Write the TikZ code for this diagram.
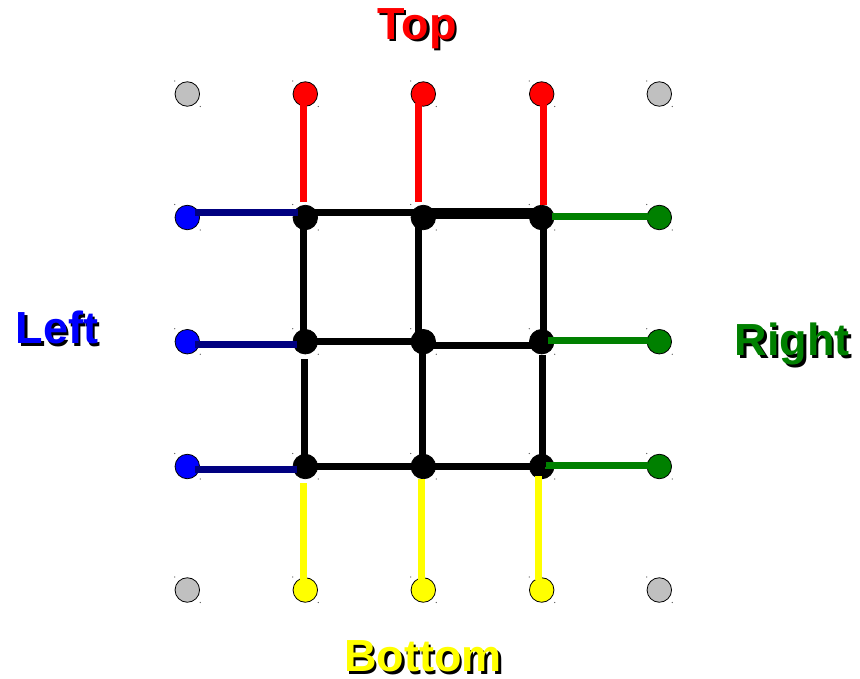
\documentclass[tikz,border=0pt]{standalone}
\usepackage{fontspec}
\setmainfont{Liberation Sans}
\usetikzlibrary{calc}

\definecolor{wireNavy}{HTML}{000080}
\definecolor{dotBlue}{HTML}{0000FF}
\definecolor{dotGreen}{HTML}{008000}
\definecolor{dotRed}{HTML}{FF0000}
\definecolor{dotYellow}{HTML}{FFFF00}
\definecolor{dotGray}{HTML}{C0C0C0}

% bold caption with a black drop shadow behind it
\newcommand{\shadowed}[1]{%
  \makebox[0pt][l]{\raisebox{-2.5pt}[0pt][0pt]{\hspace{2.5pt}\color{black}#1}}#1}

\begin{document}
\begin{tikzpicture}[x=1pt,y=-1pt,
  dot/.style={circle, draw=black, line width=0.8pt, minimum size=24.5pt, inner sep=0pt},
  wire/.style={line width=7pt, line cap=butt},
  title/.style={font=\fontsize{45}{45}\selectfont\bfseries, inner sep=0pt, anchor=base},
  speck/.style={fill=black!70}
]
\useasboundingbox (0,0) rectangle (860,678);

% corner terminals
\node[dot, fill=dotGray] (gTL) at (187.3,94) {};
\node[dot, fill=dotGray] (gTR) at (659.3,94) {};
\node[dot, fill=dotGray] (gBL) at (187.3,590) {};
\node[dot, fill=dotGray] (gBR) at (659.3,590) {};

% top terminals
\node[dot, fill=dotRed] (t1) at (305.3,94) {};
\node[dot, fill=dotRed] (t2) at (423.3,94) {};
\node[dot, fill=dotRed] (t3) at (541.7,94) {};

% left terminals
\node[dot, fill=dotBlue] (l1) at (187.3,217.5) {};
\node[dot, fill=dotBlue] (l2) at (187.3,341.7) {};
\node[dot, fill=dotBlue] (l3) at (187.3,466.5) {};

% right terminals
\node[dot, fill=dotGreen] (r1) at (659.3,217.5) {};
\node[dot, fill=dotGreen] (r2) at (659.3,341.7) {};
\node[dot, fill=dotGreen] (r3) at (659.3,466.5) {};

% bottom terminals
\node[dot, fill=dotYellow] (b1) at (305.3,590) {};
\node[dot, fill=dotYellow] (b2) at (423.3,590) {};
\node[dot, fill=dotYellow] (b3) at (541.7,590) {};

% inner mesh junctions
\foreach \r/\y in {1/217.5, 2/341.7, 3/466.5}
  \foreach \c/\x in {1/305.3, 2/423.3, 3/541.7}
    \node[dot, fill=black] (m\r\c) at (\x,\y) {};

% selection specks at two corners of every terminal
\foreach \n in {gTL,gTR,gBL,gBR,t1,t2,t3,l1,l2,l3,r1,r2,r3,b1,b2,b3,
                m11,m12,m13,m21,m22,m23,m31,m32,m33} {
  \fill[speck] ($(\n)+(-12.5,-13)$) circle (0.6);
  \fill[speck] ($(\n)+(13,12.5)$) circle (0.6);
}

% red feeders from the top
\draw[wire, dotRed] ($(t1)+(-2.3,9)$) -- ($(m11)+(-2.3,-15.5)$);
\draw[wire, dotRed] ($(t2)+(-4.6,9)$) -- ($(m12)+(-4.6,-15.8)$);
\draw[wire, dotRed] ($(t3)+(1.8,9)$) -- ($(m13)+(1.8,-12.5)$);

% navy feeders from the left
\draw[wire, wireNavy] ($(l1)+(7.7,-5)$) -- ($(m11)+(-7.3,-5)$);
\draw[wire, wireNavy] ($(l2)+(7.7,2.3)$) -- ($(m21)+(-8.3,2.3)$);
\draw[wire, wireNavy] ($(l3)+(7.7,3)$) -- ($(m31)+(-8.3,3)$);

% green feeders to the right
\draw[wire, dotGreen] ($(m13)+(10,-1.5)$) -- ($(r1)+(-11.3,-1.5)$);
\draw[wire, dotGreen] ($(m23)+(6.6,-1.2)$) -- ($(r2)+(-11.3,-1.2)$);
\draw[wire, dotGreen] ($(m33)+(3.3,-1.2)$) -- ($(r3)+(-11.3,-1.2)$);

% yellow feeders to the bottom
\draw[wire, dotYellow] ($(m31)+(-1.6,16.8)$) -- ($(b1)+(-1.6,-10)$);
\draw[wire, dotYellow] ($(m32)+(-2.3,12.8)$) -- ($(b2)+(-2.3,-10)$);
\draw[wire, dotYellow] ($(m33)+(-3,9.5)$) -- ($(b3)+(-3,-10)$);

% mesh: horizontal links
\draw[wire] ($(m11)+(0,-5)$) -- ($(m12)+(0,-5)$);
\draw[wire, line width=11pt] ($(m12)+(0,-3.7)$) -- ($(m13)+(0,-3.7)$);
\draw[wire] ($(m21)+(0,-0.2)$) -- ($(m22)+(0,-0.2)$);
\draw[wire] ($(m22)+(0,3.6)$) -- ($(m23)+(0,3.6)$);
\draw[wire] ($(m31)+(0,0.2)$) -- ($(m32)+(0,0.2)$);
\draw[wire] ($(m32)+(0,-0.2)$) -- ($(m33)+(0,-0.2)$);

% mesh: vertical links
\draw[wire] ($(m11)+(-2.3,0)$) -- ($(m21)+(-2.3,0)$);
\draw[wire] ($(m21)+(-1,17.6)$) -- ($(m31)+(-1,0)$);
\draw[wire] ($(m12)+(-4.6,0)$) -- ($(m22)+(-4.6,0)$);
\draw[wire] ($(m22)+(-0.8,0)$) -- ($(m32)+(-0.8,0)$);
\draw[wire] ($(m13)+(1.6,0)$) -- ($(m23)+(1.6,0)$);
\draw[wire] ($(m23)+(0.3,13.3)$) -- ($(m33)+(0.3,0)$);

% side titles
\node[title, dotRed] (topText) at (417,39.3) {\shadowed{Top}};
\node[title, dotBlue] (leftText) at (57,343.5) {\shadowed{Left}};
\node[title, dotGreen] (rightText) at (792,355.5) {\shadowed{Right}};
\node[title, dotYellow] (bottomText) at (423,671.5) {\shadowed{Bottom}};
\end{tikzpicture}
\end{document}
